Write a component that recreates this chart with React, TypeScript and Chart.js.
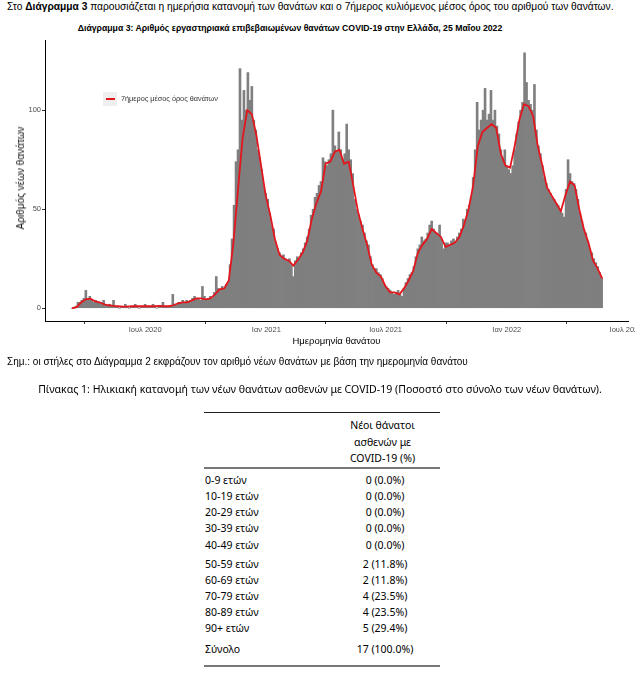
import React, { useEffect, useRef } from "react";
import { Chart, registerables } from "chart.js";

Chart.register(...registerables);

// Day offsets are counted from 12 March 2020 (first day of data)
const barStepDays = 3;
const barValues = [
  0, 0, 1, 3, 3, 4, 5, 9, 5, 6,
  4, 3, 4, 3, 3, 2, 4, 2, 1, 2,
  1, 4, 1, 1, 0, 1, 1, 2, 1, 0,
  1, 1, 2, 1, 0, 1, 1, 2, 1, 1,
  1, 2, 1, 0, 1, 1, 3, 1, 1, 1,
  1, 7, 2, 2, 3, 3, 4, 3, 4, 3,
  4, 5, 6, 5, 5, 4, 11, 6, 4, 5,
  6, 5, 8, 16, 10, 9, 11, 10, 12, 13,
  22, 35, 52, 74, 80, 121, 95, 110, 100, 119,
  105, 112, 95, 90, 80, 76, 70, 62, 58, 55,
  48, 42, 40, 33, 30, 28, 26, 27, 25, 24,
  25, 22, 16, 24, 26, 25, 28, 30, 33, 36,
  40, 47, 50, 56, 58, 62, 64, 76, 74, 72,
  75, 78, 100, 82, 79, 89, 80, 75, 78, 93,
  80, 75, 68, 55, 50, 47, 44, 42, 38, 34,
  32, 26, 22, 20, 20, 18, 17, 15, 12, 11,
  10, 9, 8, 7, 8, 9, 7, 6, 10, 13,
  15, 17, 18, 21, 26, 30, 32, 36, 34, 35,
  38, 42, 44, 40, 38, 37, 42, 35, 30, 33,
  33, 32, 34, 35, 33, 36, 38, 40, 45, 44,
  50, 52, 56, 66, 80, 104, 90, 95, 100, 111,
  95, 98, 110, 95, 100, 92, 88, 80, 76, 80,
  72, 70, 68, 72, 80, 88, 94, 100, 104, 129,
  114, 105, 103, 100, 113, 90, 82, 78, 72, 66,
  63, 60, 58, 56, 55, 53, 52, 50, 48, 46,
  60, 75, 68, 64, 63, 60, 55, 48, 44, 40,
  38, 34, 30, 28, 25, 23, 21, 18, 15,
];

const avgStepDays = 7;
const avgValues = [
  0, 0.5, 3, 4.5, 4.8, 3.5, 3, 2, 1.5, 1.2,
  1, 0.8, 0.8, 1, 1, 1, 1, 1, 1, 1.2,
  1, 1, 1.5, 2.5, 3, 3, 4, 5, 5, 4.5,
  5, 7, 9.5, 10, 14, 33, 60, 86, 100, 98,
  87, 72, 57, 47, 35, 27, 25, 24, 21.5, 24.5,
  28, 34, 45, 53, 59, 73, 74, 79, 80, 73,
  74, 62, 49, 40, 32, 22, 18, 16, 11, 8,
  8, 7, 10, 14, 19, 28, 32, 35, 40, 38,
  36, 31, 32, 33, 36, 42, 50, 62, 82, 89,
  91, 93, 91, 78, 72, 71, 82, 95, 103, 102,
  97, 82, 72, 61, 57, 53, 49, 57, 64, 62,
  50, 40, 33, 24, 20, 15,
];

const xTickDays = [111, 295, 476, 660, 841];
const xTickLabels = ["Ιουλ 2020", "Ιαν 2021", "Ιουλ 2021", "Ιαν 2022", "Ιουλ 2022"];
const yTicks = [0, 50, 100];

const legendLabel = "7ήμερος μέσος όρος θανάτων";
const yTitle = "Αριθμός νέων θανάτων";
const xTitle = "Ημερομηνία θανάτου";

const ageGroups = [
  "0-9 ετών", "10-19 ετών", "20-29 ετών", "30-39 ετών", "40-49 ετών",
  "50-59 ετών", "60-69 ετών", "70-79 ετών", "80-89 ετών", "90+ ετών", "Σύνολο",
];
const ageValues = [
  "0 (0.0%)", "0 (0.0%)", "0 (0.0%)", "0 (0.0%)", "0 (0.0%)",
  "2 (11.8%)", "2 (11.8%)", "4 (23.5%)", "4 (23.5%)", "5 (29.4%)", "17 (100.0%)",
];
const rowTops = [480, 496, 512, 528, 545, 564, 580, 596, 612, 628, 649];

const BAR_COLOR = "#7f7f7f";
const LINE_COLOR = "#e3161d";

function CovidChart() {
  const ref = useRef<HTMLCanvasElement | null>(null);
  useEffect(() => {
    if (!ref.current) return;
    const bars = barValues.map((v, i) => ({ x: i * barStepDays, y: v }));
    const avg = avgValues.map((v, i) => ({ x: i * avgStepDays, y: v }));
    const chart = new Chart(ref.current, {
      type: "bar",
      data: {
        datasets: [
          {
            type: "line",
            data: avg,
            borderColor: LINE_COLOR,
            borderWidth: 1.8,
            pointRadius: 0,
            tension: 0,
            order: 0,
          } as any,
          {
            type: "bar",
            data: bars,
            backgroundColor: BAR_COLOR,
            borderWidth: 0,
            barPercentage: 1,
            categoryPercentage: 1,
            order: 1,
          } as any,
        ],
      },
      options: {
        animation: false,
        responsive: false,
        devicePixelRatio: 1,
        layout: { padding: { top: 4, right: 16, left: 0, bottom: 0 } },
        plugins: { legend: { display: false }, tooltip: { enabled: false } },
        scales: {
          x: {
            type: "linear",
            min: -41,
            max: 844,
            offset: false,
            grid: { drawOnChartArea: false, drawTicks: true, tickLength: 3, color: "#333" },
            border: { display: true, color: "#000", width: 1 },
            ticks: {
              autoSkip: false,
              maxRotation: 0,
              padding: 1,
              color: "#4d4d4d",
              font: { family: "Liberation Sans", size: 7.5 },
              callback: (v: any) => {
                const i = xTickDays.indexOf(Number(v));
                return i >= 0 ? xTickLabels[i] : "";
              },
            },
            afterBuildTicks: (s: any) => {
              s.ticks = xTickDays.map((v) => ({ value: v }));
            },
            afterFit: (s: any) => {
              s.height = 15;
            },
          },
          y: {
            min: -6.45,
            max: 135.45,
            grid: { drawOnChartArea: false, drawTicks: true, tickLength: 3, color: "#333" },
            border: { display: true, color: "#000", width: 1 },
            ticks: {
              padding: 1,
              color: "#4d4d4d",
              font: { family: "Liberation Sans", size: 7.5 },
            },
            afterBuildTicks: (s: any) => {
              s.ticks = yTicks.map((v) => ({ value: v }));
            },
            afterFit: (s: any) => {
              s.width = 45;
              s.paddingTop = 0;
              s.paddingBottom = 0;
            },
          },
        },
      },
    });
    return () => chart.destroy();
  }, []);
  return (
    <div style={{ position: "absolute", left: 0, top: 36, width: 635, height: 300, overflow: "hidden" }}>
      <canvas ref={ref} width={644} height={300} style={{ width: 644, height: 300, display: "block" }} />
    </div>
  );
}

const sans = "'Liberation Sans', Arial, sans-serif";
const tableFont = "'Noto Sans', 'Open Sans', sans-serif";

export default function App() {
  const abs = (top: number, extra: React.CSSProperties = {}): React.CSSProperties => ({
    position: "absolute",
    top,
    whiteSpace: "nowrap",
    ...extra,
  });
  return (
    <div style={{ position: "absolute", left: 0, top: 0, width: 644, height: 673, background: "#fff", overflow: "hidden", color: "#000" }}>
      <div style={abs(1, { left: 7, fontFamily: sans, fontSize: 10.23, lineHeight: "12px" })}>
        Στο <b>Διάγραμμα 3</b> παρουσιάζεται η ημερήσια κατανομή των θανάτων και ο 7ήμερος κυλιόμενος μέσος όρος του αριθμού των θανάτων.
      </div>
      <div style={abs(23, { left: 0, width: 580, textAlign: "center", fontFamily: sans, fontSize: 8.7, fontWeight: "bold", lineHeight: "10px" })}>
        Διάγραμμα 3: Αριθμός εργαστηριακά επιβεβαιωμένων θανάτων COVID-19 στην Ελλάδα, 25 Μαΐου 2022
      </div>
      <CovidChart />
      {/* legend */}
      <div style={abs(92, { left: 103, width: 14, height: 14, background: "#efefef" })}>
        <div style={{ position: "absolute", left: 3, top: 6, width: 9, height: 2, background: LINE_COLOR }} />
      </div>
      <div style={abs(94, { left: 121, fontFamily: sans, fontSize: 7.3, lineHeight: "10px", color: "#333" })}>{legendLabel}</div>
      {/* y axis title */}
      <div style={abs(178, { left: 21, width: 0, height: 0 })}>
        <div style={{ position: "absolute", left: 0, top: 0, transform: "translate(-50%,-50%) rotate(-90deg)", fontFamily: sans, fontSize: 10, lineHeight: "12px", whiteSpace: "nowrap", color: "#111" }}>
          {yTitle}
        </div>
      </div>
      <div style={abs(335, { left: 45, width: 583, textAlign: "center", fontFamily: sans, fontSize: 9.5, lineHeight: "12px" })}>{xTitle}</div>
      <div style={abs(356, { left: 7, fontFamily: sans, fontSize: 10, lineHeight: "12px" })}>
        Σημ.: οι στήλες στο Διάγραμμα 2 εκφράζουν τον αριθμό νέων θανάτων με βάση την ημερομηνία θανάτου
      </div>
      <div style={abs(382, { left: 0, width: 640, textAlign: "center", fontFamily: tableFont, fontSize: 10.55, lineHeight: "15px" })}>
        Πίνακας 1: Ηλικιακή κατανομή των νέων θανάτων ασθενών με COVID-19 (Ποσοστό στο σύνολο των νέων θανάτων).
      </div>
      {/* table */}
      <div style={abs(412, { left: 204, width: 236, height: 1, background: "#222" })} />
      <div style={abs(417, { left: 325, width: 115, textAlign: "center", fontFamily: tableFont, fontSize: 10.5, lineHeight: "16.5px" })}>
        Νέοι θάνατοι<br />ασθενών με<br />COVID-19 (%)
      </div>
      <div style={abs(467, { left: 204, width: 236, height: 2, background: "#777" })} />
      {ageGroups.map((g, i) => (
        <React.Fragment key={g}>
          <div style={abs(rowTops[i] - 8, { left: 205, fontFamily: tableFont, fontSize: 10.5, lineHeight: "16px" })}>{g}</div>
          <div style={abs(rowTops[i] - 8, { left: 330, width: 110, textAlign: "center", fontFamily: tableFont, fontSize: 10.5, lineHeight: "16px" })}>{ageValues[i]}</div>
        </React.Fragment>
      ))}
      <div style={abs(665, { left: 204, width: 236, height: 2, background: "#777" })} />
    </div>
  );
}
